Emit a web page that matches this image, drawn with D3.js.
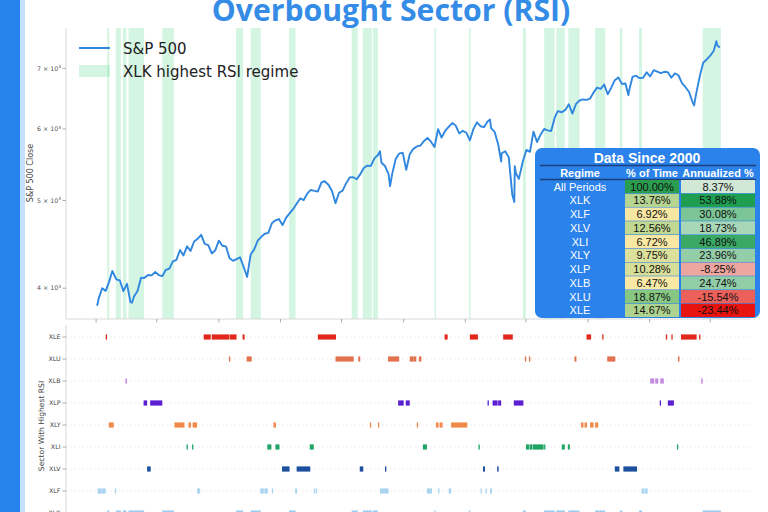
<!DOCTYPE html>
<html><head><meta charset="utf-8">
<script src="https://cdn.jsdelivr.net/npm/d3@7"></script>
<style>body{margin:0;background:#fff} svg{display:block}</style>
</head><body>
<svg id="c" width="768" height="512"></svg>
<script>
// ---------------- DATA ----------------
const spxDates = [
"2023-01-03","2023-01-06","2023-01-13","2023-01-20","2023-01-27","2023-02-02","2023-02-10","2023-02-17","2023-02-24","2023-03-03","2023-03-10","2023-03-13","2023-03-17","2023-03-24","2023-03-31","2023-04-06","2023-04-14","2023-04-21","2023-04-28","2023-05-05","2023-05-12","2023-05-19","2023-05-26","2023-06-02","2023-06-09","2023-06-16","2023-06-23","2023-06-30","2023-07-07","2023-07-14","2023-07-21","2023-07-28","2023-08-04","2023-08-11","2023-08-18","2023-08-25","2023-09-01","2023-09-08","2023-09-15","2023-09-22","2023-09-29","2023-10-06","2023-10-13","2023-10-20","2023-10-27","2023-11-03","2023-11-10","2023-11-17","2023-11-24","2023-12-01","2023-12-08","2023-12-15","2023-12-22","2023-12-29",
"2024-01-05","2024-01-12","2024-01-19","2024-01-26","2024-02-02","2024-02-09","2024-02-16","2024-02-23","2024-03-01","2024-03-08","2024-03-15","2024-03-22","2024-03-28","2024-04-05","2024-04-12","2024-04-19","2024-04-26","2024-05-03","2024-05-10","2024-05-17","2024-05-24","2024-05-31","2024-06-07","2024-06-14","2024-06-21","2024-06-28","2024-07-05","2024-07-12","2024-07-16","2024-07-19","2024-07-26","2024-08-02","2024-08-05","2024-08-09","2024-08-16","2024-08-23","2024-08-30","2024-09-06","2024-09-13","2024-09-20","2024-09-27","2024-10-04","2024-10-11","2024-10-18","2024-10-25","2024-11-01","2024-11-08","2024-11-15","2024-11-22","2024-11-29","2024-12-06","2024-12-13","2024-12-20","2024-12-27",
"2025-01-03","2025-01-10","2025-01-17","2025-01-24","2025-01-31","2025-02-07","2025-02-14","2025-02-19","2025-02-21","2025-02-28","2025-03-07","2025-03-13","2025-03-14","2025-03-21","2025-03-28","2025-04-04","2025-04-08","2025-04-09","2025-04-11","2025-04-17","2025-04-25","2025-05-02","2025-05-09","2025-05-16","2025-05-23","2025-05-30","2025-06-06","2025-06-13","2025-06-20","2025-06-27","2025-07-03","2025-07-11","2025-07-18","2025-07-25","2025-08-01","2025-08-08","2025-08-15","2025-08-22","2025-08-29","2025-09-05","2025-09-12","2025-09-19","2025-09-26","2025-10-03","2025-10-10","2025-10-17","2025-10-24","2025-10-31","2025-11-07","2025-11-14","2025-11-20","2025-11-21","2025-11-28","2025-12-05","2025-12-12","2025-12-19","2025-12-26",
"2026-01-02","2026-01-09","2026-01-16","2026-01-23","2026-01-30","2026-02-06","2026-02-13","2026-02-20","2026-02-27","2026-03-06","2026-03-13","2026-03-20","2026-03-27","2026-03-30","2026-04-03","2026-04-10","2026-04-17","2026-04-24","2026-05-01","2026-05-08","2026-05-13","2026-05-15","2026-05-20"
];
const spxClose = [
3825,3895,3999,3973,4070,4180,4090,4079,3970,4045,3861,3855,3917,3971,4109,4105,4137,4133,4169,4136,4124,4192,4205,4282,4299,4409,4348,4450,4398,4505,4536,4582,4478,4464,4370,4406,4515,4457,4450,4320,4288,4308,4327,4224,4117,4358,4415,4514,4559,4595,4604,4719,4754,4770,
4697,4784,4840,4891,4959,5027,5006,5089,5137,5124,5117,5234,5254,5204,5123,4967,5100,5128,5223,5303,5305,5278,5347,5431,5465,5460,5567,5615,5667,5505,5459,5346,5186,5344,5554,5635,5648,5408,5626,5703,5738,5751,5815,5865,5808,5729,5995,5870,5969,6032,6090,6051,5931,5971,
5942,5827,5997,6101,6041,6026,6115,6144,6013,5955,5770,5522,5639,5668,5581,5074,4982,5457,5363,5283,5525,5687,5660,5958,5803,5912,6000,5977,5968,6173,6279,6260,6297,6389,6238,6389,6450,6467,6460,6482,6584,6664,6644,6716,6553,6664,6792,6840,6728,6734,6538,6603,6849,6870,6827,6834,6930,
6858,6966,6940,6915,6939,6932,6836,6909,6878,6740,6672,6590,6420,6370,6560,6850,7100,7160,7230,7320,7500,7420,7380
];

// periods where XLK had the highest RSI
const xlkRegimes = [["2023-01-23","2023-01-25"],["2023-02-09","2023-02-17"],["2023-02-23","2023-02-28"],["2023-03-06","2023-04-04"],["2023-05-12","2023-06-02"],["2023-10-05","2023-10-17"],["2023-11-03","2023-11-21"],["2024-01-18","2024-01-29"],["2024-05-21","2024-05-31"],["2024-06-12","2024-06-28"],["2024-07-02","2024-07-10"],["2024-11-01","2024-11-01"],["2025-01-08","2025-01-08"],["2025-04-25","2025-04-29"],["2025-06-06","2025-06-25"],["2025-06-30","2025-07-15"],["2025-07-24","2025-08-13"],["2025-09-15","2025-09-22"],["2025-09-24","2025-10-03"],["2025-11-03","2025-11-06"],["2025-12-11","2025-12-15"],["2026-04-16","2026-05-20"]];
const runsXLE = [["2023-01-20","2023-01-20"],["2023-08-02","2023-08-14"],["2023-08-18","2023-09-19"],["2023-09-22","2023-10-04"],["2023-10-18","2023-10-20"],["2024-03-15","2024-04-18"],["2024-11-21","2024-11-25"],["2025-01-10","2025-01-24"],["2025-03-17","2025-04-03"],["2025-08-29","2025-09-05"],["2025-09-29","2025-09-29"],["2026-02-02","2026-02-02"],["2026-02-13","2026-02-13"],["2026-03-04","2026-04-02"],["2026-04-09","2026-04-09"]];
const runsXLU = [["2023-09-21","2023-09-21"],["2023-10-26","2023-11-03"],["2024-04-19","2024-05-23"],["2024-06-03","2024-06-05"],["2024-08-01","2024-08-21"],["2024-09-13","2024-09-18"],["2024-09-20","2024-09-24"],["2024-10-01","2024-10-04"],["2025-04-29","2025-04-29"],["2025-05-07","2025-05-07"],["2025-08-05","2025-08-07"],["2025-10-09","2025-10-23"],["2026-02-26","2026-02-27"]];
const runsXLB = [["2023-02-28","2023-03-01"],["2026-01-02","2026-01-08"],["2026-01-12","2026-01-16"],["2026-01-22","2026-01-27"],["2026-04-13","2026-04-14"]];
const runsXLP = [["2023-04-05","2023-04-10"],["2023-04-18","2023-05-10"],["2024-08-21","2024-08-30"],["2024-09-05","2024-09-11"],["2025-02-14","2025-02-14"],["2025-02-24","2025-03-04"],["2025-03-07","2025-03-11"],["2025-04-07","2025-04-24"],["2026-01-21","2026-01-21"],["2026-02-06","2026-02-16"]];
const runsXLY = [["2023-01-26","2023-02-03"],["2023-06-05","2023-06-23"],["2023-07-03","2023-07-06"],["2023-07-11","2023-07-18"],["2023-12-18","2023-12-21"],["2024-06-26","2024-06-26"],["2024-07-12","2024-07-12"],["2024-09-27","2024-09-27"],["2024-11-04","2024-11-07"],["2024-11-11","2024-11-15"],["2024-12-04","2025-01-03"],["2025-08-18","2025-08-21"],["2025-08-25","2025-08-28"],["2025-09-05","2025-09-10"],["2025-09-15","2025-09-19"]];
const runsXLI = [["2023-06-29","2023-06-29"],["2023-07-10","2023-07-10"],["2023-12-06","2023-12-12"],["2023-12-22","2023-12-28"],["2024-02-28","2024-03-05"],["2024-10-09","2024-10-15"],["2025-01-27","2025-01-27"],["2025-05-01","2025-05-05"],["2025-05-08","2025-05-12"],["2025-05-15","2025-06-03"],["2025-06-06","2025-06-06"],["2025-07-11","2025-07-15"],["2025-07-23","2025-07-25"],["2026-02-24","2026-02-24"]];
const runsXLV = [["2023-04-12","2023-04-17"],["2024-01-04","2024-01-17"],["2024-02-02","2024-02-27"],["2024-06-06","2024-06-11"],["2024-07-26","2024-07-26"],["2025-02-05","2025-02-07"],["2025-03-05","2025-03-06"],["2025-10-24","2025-10-31"],["2025-11-10","2025-12-05"]];
const runsXLF = [["2023-01-04","2023-01-10"],["2023-01-12","2023-01-18"],["2023-02-07","2023-02-07"],["2023-07-20","2023-07-24"],["2023-11-22","2023-11-27"],["2023-11-30","2023-12-05"],["2023-12-15","2023-12-15"],["2024-01-30","2024-02-01"],["2024-03-07","2024-03-07"],["2024-03-11","2024-03-11"],["2024-07-16","2024-07-22"],["2024-07-24","2024-07-31"],["2024-10-17","2024-10-25"],["2024-11-08","2024-11-08"],["2024-11-29","2024-12-02"],["2025-01-31","2025-01-31"],["2025-02-10","2025-02-10"],["2025-02-19","2025-02-21"],["2025-12-16","2025-12-19"],["2025-12-22","2025-12-26"]];

const sectors = ["XLE","XLU","XLB","XLP","XLY","XLI","XLV","XLF","XLK"];
const yTickValues = [4000,5000,6000,7000];
const yTickMantissa = ["4","5","6","7"];

const tableRegimes = ["All Periods","XLK","XLF","XLV","XLI","XLY","XLP","XLB","XLU","XLE"];
const tablePctTime = [100.00,13.76,6.92,12.56,6.72,9.75,10.28,6.47,18.87,14.67];
const tableAnnual = [8.37,53.88,30.08,18.73,46.89,23.96,-8.25,24.74,-15.54,-23.44];

// ---------------- STYLE ----------------
const sectorColor = {XLE:"#e2281c",XLU:"#e2714e",XLB:"#c48ae2",XLP:"#5a1fd1",XLY:"#f08a4b",XLI:"#1fa463",XLV:"#1c4f9d",XLF:"#a9d5f1",XLK:"#9cccef"};
const runs = {XLE:runsXLE,XLU:runsXLU,XLB:runsXLB,XLP:runsXLP,XLY:runsXLY,XLI:runsXLI,XLV:runsXLV,XLF:runsXLF,XLK:xlkRegimes};
const FONT = "DejaVu Sans, sans-serif";

const svg = d3.select("#c");
const parse = d3.utcParse("%Y-%m-%d");
const spx = spxDates.map((d,i)=>({date:parse(d), v:spxClose[i]}));

// scales
const [d0,d1] = d3.extent(spx,d=>d.date);
const pad = (d1-d0)*0.05;
const x = d3.scaleUtc().domain([new Date(+d0-pad), new Date(+d1+pad)]).range([66,751]);
const [v0,v1] = d3.extent(spx,d=>d.v);
const lp = Math.log10(v1/v0)*0.05;
const y = d3.scaleLog().domain([v0/Math.pow(10,lp), v1*Math.pow(10,lp)]).range([319,28]);
const yRow = d3.scalePoint().domain(sectors).range([337,513]);

// left decorative stripe
svg.append("rect").attr("x",0).attr("y",0).attr("width",20).attr("height",512).attr("fill","#2684ef");
svg.append("rect").attr("x",20).attr("y",0).attr("width",5).attr("height",512).attr("fill","#c3e1fb");

// ---------- top panel ----------
const topG = svg.append("g");
topG.append("g").selectAll("rect").data(xlkRegimes).join("rect")
  .attr("x",d=>x(parse(d[0])))
  .attr("width",d=>Math.max(1.6, x(parse(d[1]))-x(parse(d[0]))+1))
  .attr("y",28).attr("height",291)
  .attr("fill","#2ecc71").attr("fill-opacity",0.2);

topG.append("line").attr("x1",66).attr("x2",66).attr("y1",28).attr("y2",319).attr("stroke","#cfcfcf").attr("stroke-width",0.8);
topG.append("line").attr("x1",66).attr("x2",751).attr("y1",319).attr("y2",319).attr("stroke","#cfcfcf").attr("stroke-width",0.8);

const xt = x.ticks(d3.utcMonth.every(4));
topG.append("g").selectAll("line").data(xt).join("line")
  .attr("x1",d=>x(d)).attr("x2",d=>x(d)).attr("y1",319).attr("y2",322.5)
  .attr("stroke","#999").attr("stroke-width",0.8);

const yt = topG.append("g").selectAll("g").data(yTickValues).join("g")
  .attr("transform",d=>`translate(0,${y(d)})`);
yt.append("line").attr("x1",62.5).attr("x2",66).attr("stroke","#999").attr("stroke-width",0.8);
const ytt = yt.append("text").attr("x",61).attr("dy","0.35em").attr("text-anchor","end")
  .attr("font-family",FONT).attr("font-size",6.3).attr("fill","#555");
ytt.append("tspan").text((d,i)=>yTickMantissa[i]+" \u00d7 10");
ytt.append("tspan").attr("dy",-2.5).attr("font-size",4.4).text("3");

svg.append("text").attr("transform","translate(33,173) rotate(-90)").attr("text-anchor","middle")
  .attr("font-family",FONT).attr("font-size",8).attr("fill","#444").text("S&P 500 Close");

topG.append("path").datum(spx)
  .attr("d", d3.line().x(d=>x(d.date)).y(d=>y(d.v)))
  .attr("fill","none").attr("stroke","#2f87e0").attr("stroke-width",1.9).attr("stroke-linejoin","round");

// legend
const lg = svg.append("g").attr("font-family",FONT).attr("font-size",15).attr("fill","#222");
lg.append("line").attr("x1",79).attr("x2",110).attr("y1",48).attr("y2",48).attr("stroke","#2f87e0").attr("stroke-width",2);
lg.append("text").attr("x",123).attr("y",53.5).text("S&P 500");
lg.append("rect").attr("x",79).attr("y",65).attr("width",31).attr("height",12).attr("fill","#2ecc71").attr("fill-opacity",0.2);
lg.append("text").attr("x",123).attr("y",76.5).text("XLK highest RSI regime");

// ---------- bottom panel ----------
const bot = svg.append("g");
bot.append("g").selectAll("line").data(sectors).join("line")
  .attr("x1",66).attr("x2",751).attr("y1",d=>yRow(d)).attr("y2",d=>yRow(d))
  .attr("stroke","#e6e6e6").attr("stroke-width",0.7).attr("stroke-dasharray","2,2");
bot.append("line").attr("x1",66).attr("x2",66).attr("y1",325).attr("y2",512).attr("stroke","#cfcfcf").attr("stroke-width",0.8);
const bt = bot.append("g").selectAll("g").data(sectors).join("g").attr("transform",d=>`translate(0,${yRow(d)})`);
bt.append("line").attr("x1",62.5).attr("x2",66).attr("stroke","#999").attr("stroke-width",0.8);
bt.append("text").attr("x",60.5).attr("dy","0.35em").attr("text-anchor","end")
  .attr("font-family",FONT).attr("font-size",6.3).attr("fill","#444").text(d=>d);
sectors.forEach(s=>{
  bot.append("g").selectAll("rect").data(runs[s]).join("rect")
    .attr("x",d=>x(parse(d[0])))
    .attr("width",d=>Math.max(1.3, x(parse(d[1]))-x(parse(d[0]))+1))
    .attr("y",yRow(s)-2.6).attr("height",5.2)
    .attr("fill",sectorColor[s]);
});
svg.append("text").attr("transform","translate(44,426) rotate(-90)").attr("text-anchor","middle")
  .attr("font-family",FONT).attr("font-size",7.6).attr("fill","#444").text("Sector With Highest RSI");

// ---------- table ----------
const TF = "Liberation Sans, Arial, sans-serif";
const tb = svg.append("g");
tb.append("rect").attr("x",535).attr("y",148).attr("width",225).attr("height",170).attr("rx",7).attr("fill","#2a82ea");
tb.append("text").attr("x",647).attr("y",162.5).attr("text-anchor","middle").attr("font-family",TF)
  .attr("font-weight","bold").attr("font-size",14).attr("fill","#fff").text("Data Since 2000");
tb.append("line").attr("x1",540).attr("x2",756).attr("y1",165.5).attr("y2",165.5).attr("stroke","#1d3f7c").attr("stroke-width",1.3);
const hdr = [["Regime",580],["% of Time",652],["Annualized %",718]];
tb.selectAll("text.h").data(hdr).join("text").attr("class","h")
  .attr("x",d=>d[1]).attr("y",176.5).attr("text-anchor","middle").attr("font-family",TF)
  .attr("font-weight","bold").attr("font-size",11).attr("fill","#fff").text(d=>d[0]);
tb.append("line").attr("x1",540).attr("x2",756).attr("y1",179.5).attr("y2",179.5).attr("stroke","#1d3f7c").attr("stroke-width",1.3);

const pctColor = d3.scaleLinear().domain([6.4,20,100]).range(["#fbe9a4","#7cc47f","#2a9d4e"]).clamp(true);
const annColor = d3.scaleLinear().domain([-23.44,0,54]).range(["#e8140f","#f2f5ee","#1e9e50"]).clamp(true);
const rowY = d3.scaleBand().domain(d3.range(tableRegimes.length)).range([180,317]).paddingInner(0.04);
const rows = tb.selectAll("g.r").data(tableRegimes).join("g").attr("class","r")
  .attr("transform",(d,i)=>`translate(0,${rowY(i)})`);
const rh = rowY.bandwidth();
rows.append("rect").attr("x",625).attr("width",54).attr("height",rh).attr("fill",(d,i)=>pctColor(tablePctTime[i]));
rows.append("rect").attr("x",681).attr("width",74).attr("height",rh).attr("fill",(d,i)=>annColor(tableAnnual[i]));
rows.append("text").attr("x",580).attr("y",rh/2).attr("dy","0.36em").attr("text-anchor","middle")
  .attr("font-family",TF).attr("font-size",11).attr("fill","#fff").text(d=>d);
rows.append("text").attr("x",652).attr("y",rh/2).attr("dy","0.36em").attr("text-anchor","middle")
  .attr("font-family",TF).attr("font-size",11).attr("fill","#111").text((d,i)=>tablePctTime[i].toFixed(2)+"%");
rows.append("text").attr("x",718).attr("y",rh/2).attr("dy","0.36em").attr("text-anchor","middle")
  .attr("font-family",TF).attr("font-size",11).attr("fill","#111").text((d,i)=>tableAnnual[i].toFixed(2)+"%");

// ---------- title ----------
svg.append("text").attr("x",391).attr("y",20.5).attr("text-anchor","middle")
  .attr("font-family","Open Sans, sans-serif").attr("font-weight","bold").attr("font-size",30.2)
  .attr("fill","#348ce6").text("Overbought Sector (RSI)");
</script>
</body></html>
